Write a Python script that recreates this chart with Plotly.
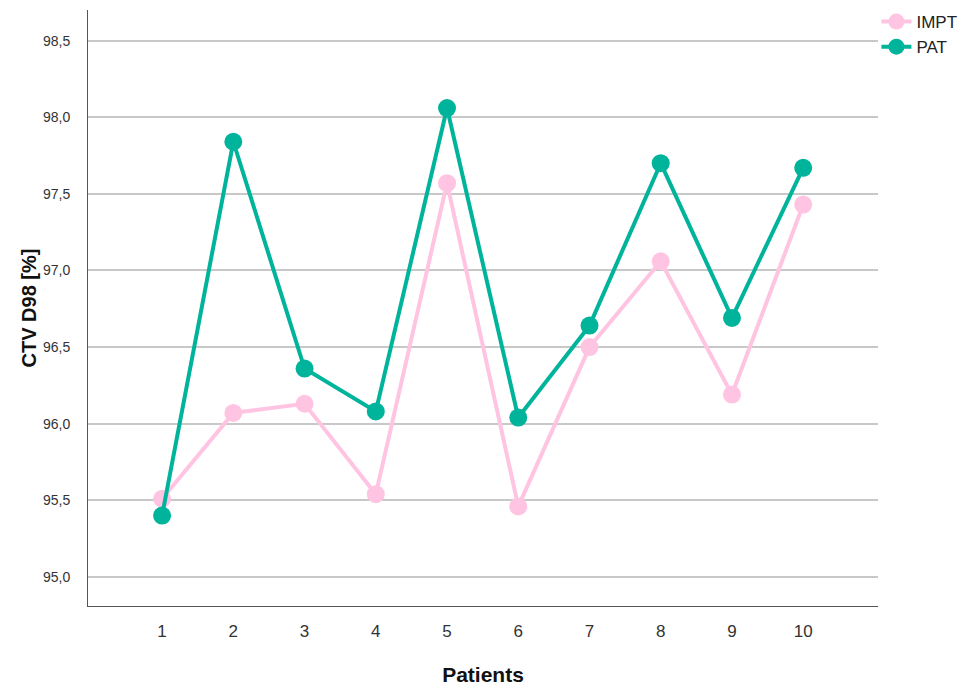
import plotly.graph_objects as go

patients = [1, 2, 3, 4, 5, 6, 7, 8, 9, 10]
impt = [95.51, 96.07, 96.13, 95.54, 97.57, 95.46, 96.50, 97.06, 96.19, 97.43]
pat = [95.40, 97.84, 96.36, 96.08, 98.06, 96.04, 96.64, 97.70, 96.69, 97.67]
y_ticks = [95.0, 95.5, 96.0, 96.5, 97.0, 97.5, 98.0, 98.5]
y_tick_labels = ["95,0", "95,5", "96,0", "96,5", "97,0", "97,5", "98,0", "98,5"]

pink = "#ffc4e1"
teal = "#00b39b"

fig = go.Figure()
fig.add_trace(go.Scatter(x=patients, y=impt, name="IMPT", mode="lines+markers",
                         line=dict(color=pink, width=4),
                         marker=dict(color=pink, size=18)))
fig.add_trace(go.Scatter(x=patients, y=pat, name="PAT", mode="lines+markers",
                         line=dict(color=teal, width=4),
                         marker=dict(color=teal, size=18)))

fig.update_layout(
    width=965, height=686,
    margin=dict(l=88, r=87, t=10, b=80, autoexpand=False),
    plot_bgcolor="white", paper_bgcolor="white",
    font=dict(family="Liberation Sans, Arial, sans-serif", color="#333333"),
    showlegend=True,
    legend=dict(x=0.998, y=1.01, xanchor="left", yanchor="top",
                font=dict(size=17, color="#222222"),
                bgcolor="rgba(0,0,0,0)", tracegroupgap=0, itemwidth=30),
    xaxis=dict(range=[-0.04, 11.05], tickmode="array", tickvals=patients,
               ticktext=[str(p) for p in patients],
               showgrid=False, zeroline=False, showline=True, linecolor="#555555",
               linewidth=1, ticks="", ticklabelstandoff=10,
               tickfont=dict(size=17, color="#333333"),
               title=dict(text="<b>Patients</b>", font=dict(size=21, color="#111111"), standoff=28)),
    yaxis=dict(range=[94.81, 98.70], tickmode="array", tickvals=y_ticks, ticktext=y_tick_labels,
               showgrid=True, gridcolor="#c8c8c8", gridwidth=2, zeroline=False,
               showline=True, linecolor="#555555", linewidth=1, ticks="", ticklabelstandoff=14,
               tickfont=dict(size=14, color="#333333"),
               title=dict(text="<b>CTV D98 [%]</b>", font=dict(size=20, color="#111111"), standoff=0)),
)

fig.write_html("out.html", config={"displayModeBar": False},
               post_script="document.body.style.margin='0px';")
